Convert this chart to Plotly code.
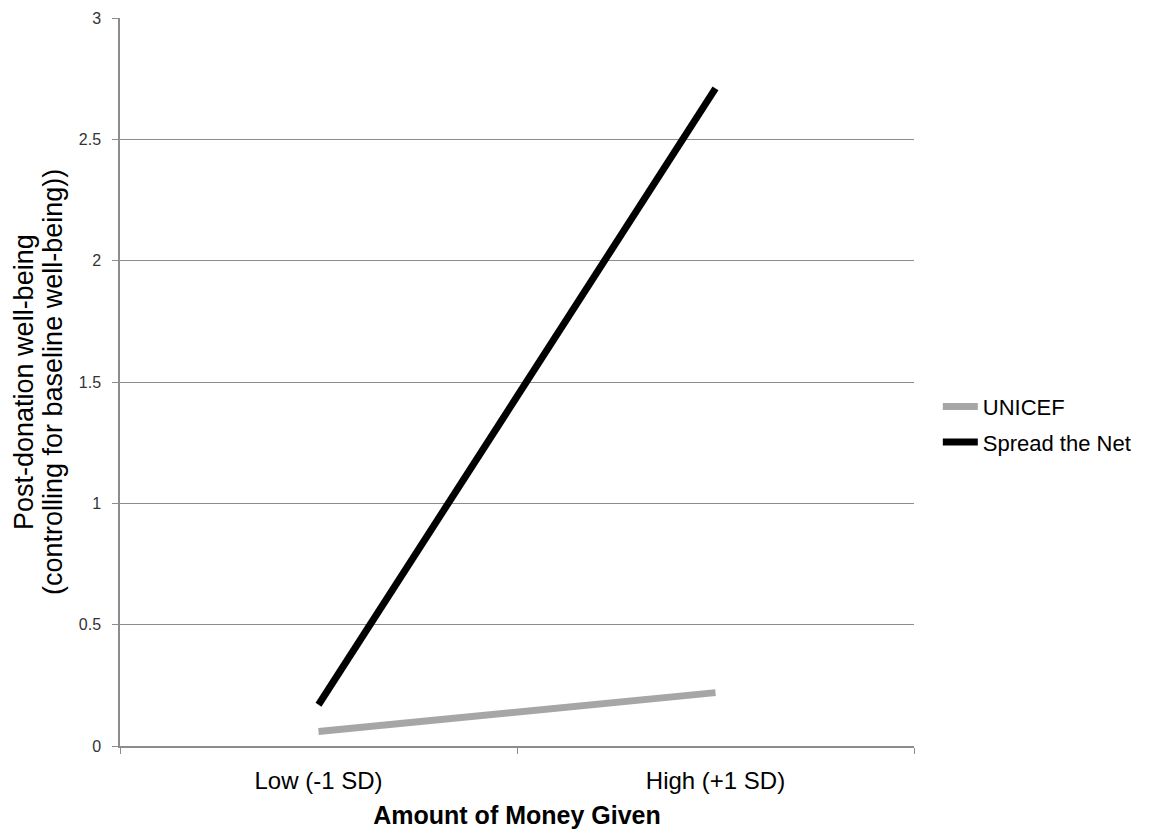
import plotly.graph_objects as go

categories = ["Low (-1 SD)", "High (+1 SD)"]
unicef = [0.06, 0.22]
spread_the_net = [0.17, 2.71]
y_ticks = [0, 0.5, 1, 1.5, 2, 2.5, 3]
y_tick_labels = ["0", "0.5", "1", "1.5", "2", "2.5", "3"]
y_title_lines = ["Post-donation well-being", "(controlling for baseline well-being))"]

x_pos = list(range(len(categories)))

fig = go.Figure()
fig.add_trace(go.Scatter(x=x_pos, y=unicef, mode="lines", name="UNICEF", legendgroup="a",
                         line=dict(color="#a6a6a6", width=7)))
fig.add_trace(go.Scatter(x=x_pos, y=spread_the_net, mode="lines", name="Spread the Net", legendgroup="b",
                         line=dict(color="#000000", width=7)))

font = "Liberation Sans, Arial, sans-serif"
plot_left, plot_w = 120, 794

for i, (line, px) in enumerate(zip(y_title_lines, [24, 53])):
    fig.add_annotation(text=line, textangle=-90, xref="paper", yref="paper",
                       x=(px - plot_left) / plot_w, y=0.5, xanchor="center", yanchor="middle",
                       showarrow=False, font=dict(size=27, family=font, color="#000000"))

fig.update_layout(
    width=1150, height=833,
    margin=dict(l=112, r=244, t=10, b=95),
    paper_bgcolor="white", plot_bgcolor="white",
    font=dict(family=font, color="#000000"),
    showlegend=True,
    legend=dict(x=1.03, y=0.495, xanchor="left", yanchor="top",
                font=dict(size=22, family=font, color="#000000"),
                itemwidth=35, tracegroupgap=4, traceorder="grouped", bgcolor="rgba(0,0,0,0)"),
    xaxis=dict(range=[-0.5, 1.5], tickvals=x_pos, ticktext=categories, automargin=False,
               showgrid=False, zeroline=False, showline=True, linecolor="#8c8c8c",
               linewidth=1.5, ticks="", tickfont=dict(size=24, family=font, color="#000000"),
               ticklabelstandoff=12,
               minor=dict(ticks="outside", tick0=-0.5, dtick=1, ticklen=6, tickcolor="#8c8c8c", showgrid=False),
               title=dict(text="<b>Amount of Money Given</b>", font=dict(size=25, family=font, color="#000000"),
                          standoff=14)),
    yaxis=dict(range=[0, 3], tickvals=y_ticks, ticktext=y_tick_labels, automargin=False,
               showgrid=True, gridcolor="#8c8c8c", gridwidth=1, zeroline=False,
               showline=True, linecolor="#8c8c8c", linewidth=1.5,
               ticks="outside", ticklen=6, tickcolor="#8c8c8c",
               ticklabelstandoff=8,
               tickfont=dict(size=16, family=font, color="#333333")),
)

fig.write_html("out.html")
